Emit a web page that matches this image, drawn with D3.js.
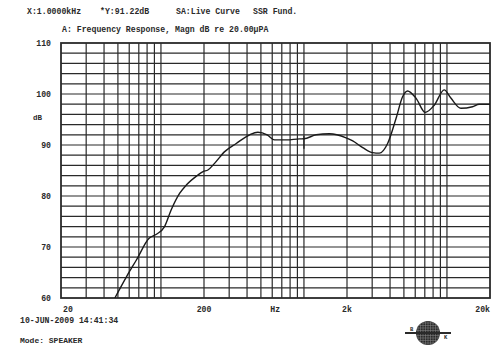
<!DOCTYPE html>
<html><head><meta charset="utf-8">
<script src="https://cdn.jsdelivr.net/npm/d3@7"></script>
<style>
body{margin:0;background:#fff;}
svg text{font-family:"Liberation Mono","DejaVu Sans Mono",monospace;font-weight:bold;fill:#2a2a2a;}
</style></head>
<body>
<script>
const freqs = [47.6, 57.5, 67.5, 82.6, 93, 106, 118, 135, 151, 181, 197, 213, 237, 279, 336, 417, 476, 553, 623, 752, 931, 1000, 1217, 1507, 1972, 2193, 2575, 3022, 3366, 3847, 4404, 4900, 5309, 6070, 7046, 8148, 9564, 10650, 12510, 15080, 16790, 20000];
const levels = [60, 64.2, 67.5, 71.7, 72.5, 74, 77.3, 80.5, 82.2, 84.1, 84.8, 85.1, 86.4, 88.7, 90.3, 92, 92.5, 92, 91, 91, 91.2, 91.22, 92, 92.2, 91.4, 90.8, 89.5, 88.5, 88.4, 90.3, 95.2, 99.5, 100.6, 99.2, 96.4, 97.8, 100.8, 99.2, 97.2, 97.5, 98, 98];
const yTickLabels = [60, 70, 80, 90, 100, 110];
const xTickLabels = [{f:20,t:"20"},{f:200,t:"200"},{f:630,t:"Hz"},{f:2000,t:"2k"},{f:20000,t:"20k"}];
const vGrid = [30,40,50,60,70,80,90,100,200,300,400,500,600,700,800,900,1000,2000,3000,4000,5000,6000,7000,8000,9000,10000];
const hGrid = d3.range(62, 110, 2);
const cursorFreq = 1000, cursorLevel = 91.22;

const W = 500, H = 354;
const svg = d3.select("body").append("svg").attr("width", W).attr("height", H);
const x = d3.scaleLog().domain([20, 20000]).range([61, 490]);
const y = d3.scaleLinear().domain([60, 110]).range([298, 43]);
const ink = "#2a2a2a";

// header text
svg.append("text").attr("x", 27).attr("y", 14).attr("font-size", 8.2).text("X:1.0000kHz");
svg.append("text").attr("x", 100).attr("y", 14).attr("font-size", 8.2).text("*Y:91.22dB");
svg.append("text").attr("x", 176).attr("y", 14).attr("font-size", 8.2).text("SA:Live Curve");
svg.append("text").attr("x", 253).attr("y", 14).attr("font-size", 8.2).text("SSR Fund.");
svg.append("text").attr("x", 62).attr("y", 32).attr("font-size", 8.2).text("A: Frequency Response, Magn dB re 20.00\u00b5PA");

// grid
const g = svg.append("g");
g.selectAll("line.h").data(hGrid).join("line")
  .attr("x1", x(20)).attr("x2", x(20000))
  .attr("y1", d => y(d)).attr("y2", d => y(d))
  .attr("stroke", ink).attr("stroke-width", 1.2);
g.selectAll("line.v").data(vGrid).join("line")
  .attr("x1", d => x(d)).attr("x2", d => x(d))
  .attr("y1", y(110)).attr("y2", y(60))
  .attr("stroke", ink).attr("stroke-width", 1.2);
g.append("rect").attr("x", x(20)).attr("y", y(110))
  .attr("width", x(20000) - x(20)).attr("height", y(60) - y(110))
  .attr("fill", "none").attr("stroke", ink).attr("stroke-width", 1.8);

// axes labels
svg.selectAll("text.yl").data(yTickLabels).join("text")
  .attr("x", 51).attr("y", d => y(d) + 3).attr("text-anchor", "end")
  .attr("font-size", 8.2).text(d => d);
svg.append("text").attr("x", 33).attr("y", 120).attr("font-size", 7.5).text("dB");
svg.selectAll("text.xl").data(xTickLabels).join("text")
  .attr("x", d => d.f === 20 ? x(d.f) + 2 : x(d.f))
  .attr("y", 312)
  .attr("text-anchor", d => d.f === 20 ? "start" : (d.f === 20000 ? "end" : "middle"))
  .attr("font-size", 8.2).text(d => d.t);

// curve
svg.append("clipPath").attr("id", "pc").append("rect")
  .attr("x", x(20)).attr("y", y(110)).attr("width", x(20000) - x(20)).attr("height", y(60) - y(110));
const data = freqs.map((f, i) => [f, levels[i]]);
const line = d3.line().x(d => x(d[0])).y(d => y(d[1])).curve(d3.curveMonotoneX);
svg.append("path").attr("d", line(data)).attr("clip-path", "url(#pc)")
  .attr("fill", "none").attr("stroke", "#1a1a1a").attr("stroke-width", 1.4);

// cursor marker
svg.append("line").attr("x1", x(cursorFreq)).attr("x2", x(cursorFreq))
  .attr("y1", y(cursorLevel) - 3).attr("y2", y(cursorLevel) + 10)
  .attr("stroke", "#1a1a1a").attr("stroke-width", 1.2);

// footer
svg.append("text").attr("x", 20).attr("y", 323).attr("font-size", 8.2).text("10-JUN-2009 14:41:34");
svg.append("text").attr("x", 20).attr("y", 343).attr("font-size", 8).text("Mode: SPEAKER");

// logo (globe with B K)
const lg = svg.append("g").attr("transform", "translate(428,333)");
lg.append("clipPath").attr("id", "gc").append("circle").attr("r", 12);
lg.append("circle").attr("r", 12).attr("fill", "#2a2a2a");
const hatch = lg.append("g").attr("clip-path", "url(#gc)");
hatch.selectAll("line.lat").data(d3.range(-10, 11, 2.5)).join("line")
  .attr("x1", -13).attr("x2", 13).attr("y1", d => d).attr("y2", d => d)
  .attr("stroke", "#8a8a8a").attr("stroke-width", 0.5);
hatch.selectAll("line.lon").data(d3.range(-10, 11, 2.5)).join("line")
  .attr("y1", -13).attr("y2", 13).attr("x1", d => d).attr("x2", d => d)
  .attr("stroke", "#8a8a8a").attr("stroke-width", 0.5);
lg.append("line").attr("x1", -23).attr("x2", 23).attr("y1", 0).attr("y2", 0)
  .attr("stroke", "#2a2a2a").attr("stroke-width", 2);
lg.append("text").attr("x", -18).attr("y", -2).attr("font-size", 5.5).text("B");
lg.append("text").attr("x", 16).attr("y", 6).attr("font-size", 5.5).text("K");
</script>
</body></html>
